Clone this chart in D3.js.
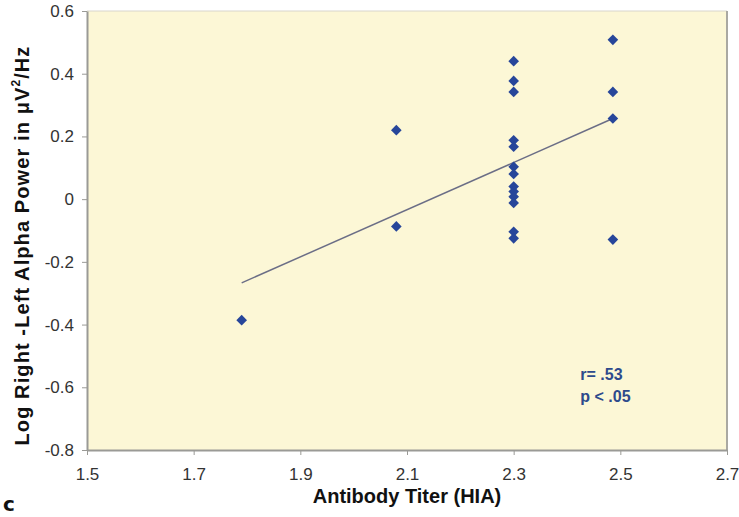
<!DOCTYPE html>
<html lang="en">
<head>
  <meta charset="UTF-8">
  <title>Antibody Titer vs Alpha Power</title>
  <script src="https://d3js.org/d3.v7.min.js"></script>
  <style>
    body { margin: 0; background: #fff; font-family: "Liberation Sans", Arial, sans-serif; }
    .axis path, .axis line { stroke: #9a9a96; }
    .title { font-weight: bold; fill: #111; }
  </style>
</head>
<body>
<svg id="chart" width="739" height="517"></svg>
<script>
  // data
  const titer = [1.79, 2.08, 2.08,
    2.3, 2.3, 2.3, 2.3, 2.3, 2.3, 2.3, 2.3, 2.3, 2.3, 2.3, 2.3, 2.3,
    2.486, 2.486, 2.486, 2.486];
  const alphaPower = [-0.386, 0.22, -0.087,
    0.44, 0.377, 0.342, 0.188, 0.167, 0.103, 0.08, 0.04, 0.024, 0.008, -0.012, -0.104, -0.125,
    0.508, 0.342, 0.257, -0.129];
  const trendX = [1.79, 2.486];
  const trendY = [-0.267, 0.257];
  const xTicks = [1.5, 1.7, 1.9, 2.1, 2.3, 2.5, 2.7];
  const yTicks = [-0.8, -0.6, -0.4, -0.2, 0, 0.2, 0.4, 0.6];

  const svg = d3.select("#chart"),
        margin = { top: 11, right: 12, bottom: 67, left: 87 },
        width  = +svg.attr("width")  - margin.left - margin.right,
        height = +svg.attr("height") - margin.top  - margin.bottom;

  const x = d3.scaleLinear().domain([1.5, 2.7]).range([0, width]);
  const y = d3.scaleLinear().domain([-0.8, 0.6]).range([height, 0]);

  // plain hyphen minus like the original
  const fmt = d => d === 0 ? "0" : d3.format(".1f")(d).replace("−", "-");

  const g = svg.append("g")
    .attr("transform", `translate(${margin.left},${margin.top})`);

  // plot background
  g.append("rect")
    .attr("width", width).attr("height", height)
    .attr("fill", "#fcf7d6");
  g.append("line").attr("x1", 0).attr("x2", width).attr("y1", 0).attr("y2", 0)
    .attr("stroke", "#d8d6cc").attr("stroke-width", 1);
  g.append("line").attr("x1", width).attr("x2", width).attr("y1", 0).attr("y2", height)
    .attr("stroke", "#aaa9a2").attr("stroke-width", 2);

  // axes
  const xAxis = g.append("g")
    .attr("class", "axis")
    .attr("transform", `translate(0,${height})`)
    .call(d3.axisBottom(x).tickValues(xTicks).tickSize(5).tickSizeOuter(0).tickPadding(13)
      .tickFormat(fmt));
  const yAxis = g.append("g")
    .attr("class", "axis")
    .call(d3.axisLeft(y).tickValues(yTicks).tickSize(5).tickSizeOuter(0).tickPadding(8)
      .tickFormat(fmt));

  [xAxis, yAxis].forEach(a => {
    a.attr("font-size", 17).attr("font-family", "'Liberation Sans', Arial, sans-serif");
    a.selectAll("text").attr("fill", "#333");
    a.select(".domain").attr("stroke-width", 2);
  });

  // trend line
  g.append("line")
    .attr("x1", x(trendX[0])).attr("y1", y(trendY[0]))
    .attr("x2", x(trendX[1])).attr("y2", y(trendY[1]))
    .attr("stroke", "#6b6e86")
    .attr("stroke-width", 1.5);

  // diamonds
  const pts = titer.map((t, i) => ({ t, v: alphaPower[i] }));
  g.selectAll(".pt")
    .data(pts)
    .join("path")
    .attr("class", "pt")
    .attr("d", d3.symbol(d3.symbolDiamond2, 72))
    .attr("transform", d => `translate(${x(d.t)},${y(d.v)})`)
    .attr("fill", "#27469a");

  // stats note
  const note = g.append("text")
    .attr("x", x(2.425)).attr("y", y(-0.577))
    .attr("fill", "#2d4a8c")
    .attr("font-size", "16px")
    .attr("font-weight", "bold");
  note.append("tspan").attr("x", x(2.425)).text("r= .53");
  note.append("tspan").attr("x", x(2.425)).attr("dy", 22).text("p < .05");

  // axis titles
  svg.append("text")
    .attr("class", "title")
    .attr("font-size", "20px")
    .attr("x", margin.left + width / 2)
    .attr("y", 503)
    .attr("text-anchor", "middle")
    .text("Antibody Titer (HIA)");

  const yt = svg.append("text")
    .attr("class", "title")
    .attr("font-size", "20px")
    .attr("letter-spacing", "1.1px")
    .attr("transform", `translate(29,${margin.top + height / 2 + 15}) rotate(-90)`)
    .attr("text-anchor", "middle");
  yt.append("tspan").text("Log Right -Left Alpha Power in μV");
  yt.append("tspan").attr("font-size", "12px").attr("dy", -9).text("2");
  yt.append("tspan").attr("dy", 9).text("/Hz");

  // panel letter
  svg.append("text")
    .attr("x", 3).attr("y", 511)
    .attr("font-family", "'DejaVu Sans', sans-serif")
    .attr("font-size", "20px")
    .attr("font-weight", "bold")
    .attr("fill", "#111")
    .text("c");
</script>
</body>
</html>
